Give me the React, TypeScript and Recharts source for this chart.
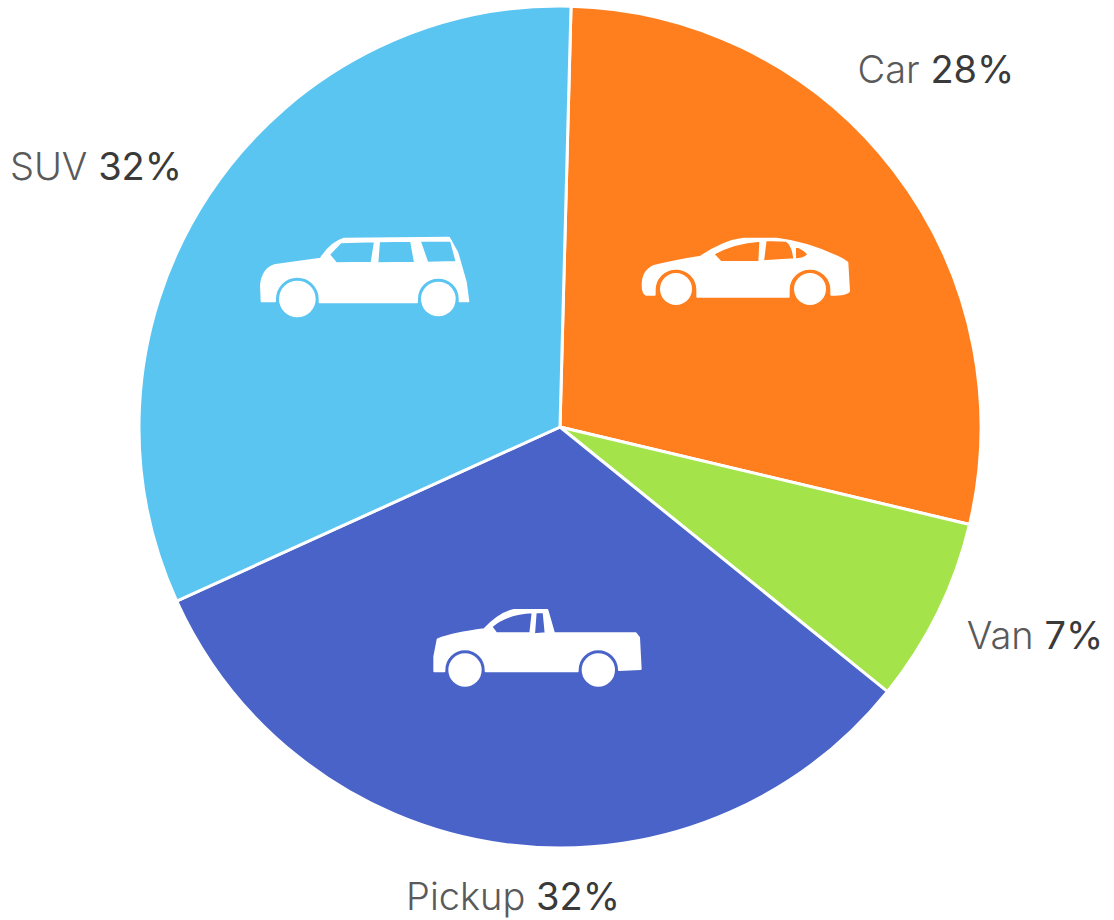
import React from "react";
import { PieChart, Pie, Cell } from "recharts";

const categories = ["Car", "Van", "Pickup", "SUV"];
const shares = [28.3, 7.1, 32.4, 32.2];
const shownPercent = ["28%", "7%", "32%", "32%"];
const colors = ["#FF7F1F", "#A5E34B", "#4A63C8", "#5BC5F2"];

// where the captions and icons sit, measured from the pie centre
const captionOffsets = [
  [376, -344],
  [475, 222],
  [-47, 483],
  [-464, -247],
];
const iconOffsets = [[186, -157], null, [-23, 220], [-195, -150]];

const data = categories.map((name, i) => ({ name, value: shares[i] }));

const CAR_ICON = {
  origin: [348, 135],
  wheels: [[138, 192, 48], [540, 192, 48]],
  path:
    "M38 180 Q38 138 72 123 Q130 108 212 95 Q280 48 340 41 L440 41 Q540 53 638 103 L652 113 L657 198 Q652 209 604 209 L604 195 A64 64 0 0 0 476 195 L476 215 L202 215 L202 195 A64 64 0 0 0 74 195 L74 209 L48 209 Q38 205 38 180 Z " +
    "M250 87 Q310 52 391 47 L388 111 L272 111 Z M407 45 L468 47 Q488 57 493 103 L399 109 Z M495 62 Q523 72 535 88 Q523 103 495 103 Z",
};
const PICKUP_ICON = {
  origin: [351, 156],
  wheels: [[135, 225, 50], [535, 225, 50]],
  path:
    "M43 185 L53 133 Q100 115 192 103 Q240 53 282 45 L382 45 L402 115 L647 115 L657 128 L662 222 L597 225 A62 62 0 0 0 473 225 L473 229 L197 229 L197 225 A62 62 0 0 0 73 225 L73 229 L43 229 Z " +
    "M214 95 Q260 55 338 52 L331 115 L229 115 Z M347 52 L371 52 L377 115 L342 118 Z",
};
const SUV_ICON = {
  origin: [345, 156],
  wheels: [[142, 222, 55], [565, 222, 52]],
  path:
    "M35 229 L33 180 Q38 133 72 121 L212 101 Q242 53 282 41 L597 38 L622 83 L647 170 L655 229 L629 229 L629 222 A64 64 0 0 0 501 222 L501 232 L209 232 L209 222 A67 67 0 0 0 75 222 L75 229 Z " +
    "M237 89 L272 52 L375 49 L365 113 L259 115 Z M387 49 L483 47 L495 113 L382 115 Z M509 47 L603 47 L620 111 L532 113 Z",
};
const icons = [CAR_ICON, null, PICKUP_ICON, SUV_ICON];

const renderLabel = (props: any) => {
  const { cx, cy, index } = props;
  const [tx, ty] = captionOffsets[index];
  const icon = icons[index];
  const iconAt = iconOffsets[index];
  return (
    <g key={categories[index]}>
      <text
        x={cx + tx}
        y={cy + ty}
        textAnchor="middle"
        fontFamily="Inter, sans-serif"
        fontSize={38}
      >
        <tspan fill="#5a5a5a" fontWeight={300}>{categories[index]} </tspan>
        <tspan fill="#3a3a3a" fontWeight={400}>{shownPercent[index]}</tspan>
      </text>
      {icon && iconAt && (
        <g
          transform={`translate(${cx + iconAt[0]} ${cy + iconAt[1]}) scale(${1 / 3}) translate(${-icon.origin[0]} ${-icon.origin[1]})`}
          fill="#fff"
        >
          <path d={icon.path} fillRule="evenodd" stroke="#fff" strokeWidth={6} strokeLinejoin="round" />
          {icon.wheels.map(([x, y, r]) => (
            <circle key={x} cx={x} cy={y} r={r} />
          ))}
        </g>
      )}
    </g>
  );
};

export default function App() {
  return (
    <div style={{ position: "absolute", left: 0, top: 0, width: 1114, height: 920, background: "#fff" }}>
      <PieChart width={1114} height={920} margin={{ top: 0, right: 0, bottom: 0, left: 0 }}>
        <Pie
          data={data}
          dataKey="value"
          nameKey="name"
          cx={560}
          cy={427}
          innerRadius={0}
          outerRadius={421}
          startAngle={88.5}
          endAngle={-271.5}
          stroke="#fff"
          strokeWidth={3}
          label={renderLabel}
          labelLine={false}
          isAnimationActive={false}
        >
          {categories.map((name, i) => (
            <Cell key={name} fill={colors[i]} />
          ))}
        </Pie>
      </PieChart>
    </div>
  );
}
